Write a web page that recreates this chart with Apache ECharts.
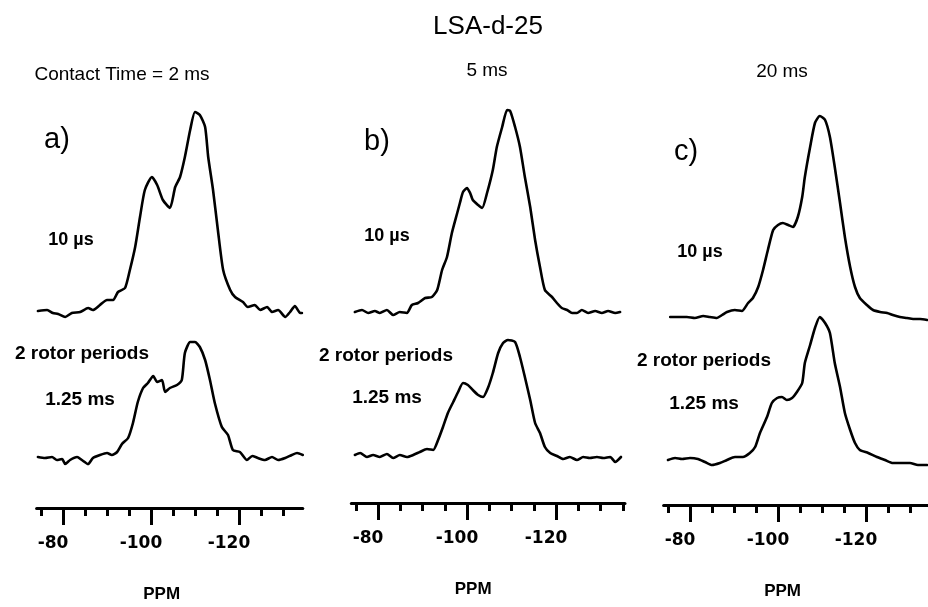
<!DOCTYPE html>
<html>
<head>
<meta charset="utf-8">
<script src="https://cdn.jsdelivr.net/npm/echarts@6/dist/echarts.min.js"></script>
<style>
  html, body { margin: 0; padding: 0; background: #fff; }
  #chart { width: 928px; height: 607px; }
</style>
</head>
<body>
<div id="chart"></div>
<script>
// ---- text ----
const chartTitle = 'LSA-d-25';
const contactTimes = ['Contact Time = 2 ms', '5 ms', '20 ms'];
const panelTags = ['a)', 'b)', 'c)'];
const upperLabel = '10 µs';
const lowerLabelLine1 = '2 rotor periods';
const lowerLabelLine2 = '1.25 ms';
const axisName = 'PPM';

// ---- PPM axis ticks ----
const minorTickPpm = [-75, -80, -85, -90, -95, -100, -105, -110, -115, -120, -125, -130, -135];
const majorTickPpm = [-80, -100, -120];

// ---- 29Si CP-MAS spectra: [chemical shift (ppm), intensity (a.u.)] ----
// contact time 2 ms
const spec2ms10us = [
  [-74.3, 2.5], [-76.4, 3], [-77.7, 1.5], [-78.9, 1], [-80.5, -0.5], [-82.0, 1.5], [-83.9, 2],
  [-85.7, 4], [-86.8, 3], [-88.4, 5.5], [-90.0, 8], [-91.4, 8], [-92.5, 12], [-94.1, 14],
  [-95.2, 23], [-96.4, 34.5], [-97.5, 49.5], [-98.6, 63], [-100.2, 69.5], [-101.4, 65.5],
  [-102.7, 58], [-104.3, 54], [-105.5, 64.5], [-106.6, 69.5], [-107.7, 79.5], [-108.9, 93],
  [-110.0, 102], [-111.1, 100.5], [-112.3, 94.5], [-113.0, 79.5], [-114.1, 63], [-115.2, 43],
  [-116.4, 23], [-118.0, 13], [-119.1, 9.5], [-120.9, 7], [-122.0, 4.5], [-123.6, 5.5],
  [-124.8, 3], [-126.4, 4.5], [-127.5, 2], [-128.9, 3], [-130.5, -0.5], [-131.6, 2],
  [-132.7, 5], [-133.9, 1.5], [-134.3, 1.5]
];
const spec2ms125ms = [
  [-74.3, 1.5], [-75.9, 1], [-77.5, 1.5], [-78.6, 0], [-79.8, 0.5], [-80.5, -2], [-81.6, 0],
  [-83.2, 1.5], [-84.3, 0], [-85.7, -2], [-86.8, 1], [-88.4, 2.5], [-90.0, 3.5], [-91.1, 2.5],
  [-92.3, 4], [-93.4, 8], [-94.8, 11], [-95.9, 18.5], [-97.0, 29], [-98.2, 36], [-99.3, 38.5],
  [-100.5, 42], [-101.4, 39], [-102.5, 40], [-103.2, 34], [-104.3, 36], [-105.9, 37.5],
  [-107.0, 40], [-107.7, 53.5], [-108.9, 59], [-110.0, 59], [-111.1, 56.5], [-112.3, 50],
  [-113.4, 40], [-114.5, 28.5], [-116.1, 16.5], [-117.5, 12.5], [-118.6, 5], [-120.2, 4],
  [-121.8, 0], [-123.0, 2], [-124.3, 1], [-125.9, 0], [-127.5, 1.5], [-128.9, 0], [-130.5, 1],
  [-132.0, 2.5], [-133.2, 3.5], [-134.5, 2.5]
];
// contact time 5 ms
const spec5ms10us = [
  [-74.8, 2], [-76.4, 3], [-77.8, 1.5], [-79.3, 2.5], [-80.4, 1.5], [-82.0, 3], [-83.4, 0.5],
  [-84.9, 2], [-86.5, 1.5], [-87.6, 5.5], [-89.0, 6.5], [-90.6, 9], [-92.1, 9.5], [-93.3, 13],
  [-94.4, 23], [-95.5, 29.5], [-96.6, 41.5], [-97.8, 51.5], [-98.4, 56.5], [-99.1, 62],
  [-100.0, 64], [-100.7, 61.5], [-101.3, 58], [-102.5, 55.5], [-103.4, 54], [-104.5, 61.5],
  [-105.8, 73], [-106.7, 84.5], [-107.9, 94.5], [-109.0, 103], [-109.7, 102.5], [-110.8, 94.5],
  [-111.9, 84.5], [-113.0, 69.5], [-114.2, 54.5], [-115.3, 38], [-116.4, 24.5], [-117.5, 13],
  [-119.1, 9.5], [-120.2, 6.5], [-121.3, 4], [-122.5, 3], [-123.6, 1.5], [-124.7, 1.5],
  [-125.8, 3], [-127.2, 1.5], [-128.8, 2.5], [-130.3, 1.5], [-131.7, 2.5], [-133.3, 1.5],
  [-134.4, 2]
];
const spec5ms125ms = [
  [-74.8, 2.5], [-76.0, 3.5], [-77.5, 1.5], [-78.9, 2.5], [-80.4, 1.5], [-82.0, 3], [-83.4, 1],
  [-84.9, 2.5], [-86.5, 1.5], [-87.9, 2.5], [-89.4, 4], [-91.0, 5.5], [-92.4, 5], [-93.5, 10],
  [-94.6, 16.5], [-95.7, 23.5], [-96.9, 29], [-98.0, 34], [-99.1, 38.5], [-100.2, 37.5],
  [-101.3, 35], [-102.5, 32.5], [-103.6, 31.5], [-104.7, 36], [-105.8, 43.5], [-107.0, 53.5],
  [-108.1, 58.5], [-109.2, 60], [-110.8, 59], [-111.9, 51.5], [-113.0, 41.5], [-114.2, 30],
  [-115.3, 18.5], [-116.4, 13.5], [-117.5, 6.5], [-118.7, 3.5], [-120.2, 2], [-121.6, 0.5],
  [-123.1, 1.5], [-124.7, 0], [-126.1, 1.5], [-127.6, 1], [-129.2, 1.5], [-130.6, 1],
  [-132.2, 1.5], [-133.3, -1], [-134.6, 1.5]
];
// contact time 20 ms
const spec20ms10us = [
  [-75.5, 1], [-77.3, 1], [-79.3, 1], [-81.1, 0.5], [-83.0, 1.5], [-84.5, 1], [-86.1, 0.5],
  [-87.3, 2], [-88.4, 3.5], [-90.2, 4.5], [-91.8, 4], [-93.2, 8], [-94.3, 10.5], [-95.5, 16],
  [-96.6, 24.5], [-97.7, 34.5], [-98.9, 44.5], [-100.0, 47], [-101.1, 48], [-102.3, 47],
  [-103.4, 46], [-104.5, 51], [-105.5, 61], [-106.1, 71], [-107.3, 86], [-108.4, 98],
  [-109.5, 101.5], [-110.7, 99.5], [-111.8, 91], [-112.9, 76], [-114.1, 58], [-115.2, 41],
  [-116.4, 26], [-117.5, 16], [-118.6, 10.5], [-120.2, 7], [-121.6, 4.5], [-123.2, 3.5],
  [-124.8, 3], [-126.1, 2], [-127.7, 1], [-129.3, 0.5], [-130.7, 0], [-132.3, 0], [-133.9, -0.5]
];
const spec20ms125ms = [
  [-75.0, 1.5], [-76.6, 2.5], [-78.2, 2], [-80.0, 2.5], [-81.8, 2], [-83.4, 0.5], [-85.0, -1],
  [-86.8, 0], [-88.4, 1.5], [-90.2, 3], [-92.0, 3], [-93.6, 5], [-94.8, 8], [-95.9, 15],
  [-97.5, 23], [-98.6, 30], [-99.8, 32.5], [-100.9, 33], [-102.0, 31.5], [-103.2, 32.5],
  [-104.3, 35.5], [-105.5, 40], [-106.1, 50], [-107.3, 59], [-108.4, 67.5], [-109.5, 73],
  [-110.7, 70], [-111.8, 65], [-112.9, 50], [-114.1, 38], [-115.2, 25], [-116.4, 16.5],
  [-117.5, 10], [-118.6, 6.5], [-120.5, 5], [-122.5, 3], [-124.3, 1.5], [-126.1, 0],
  [-128.2, 0], [-130.0, 0], [-131.8, -1], [-133.9, -1]
];

const upperSpectra = [spec2ms10us, spec5ms10us, spec20ms10us];
const lowerSpectra = [spec2ms125ms, spec5ms125ms, spec20ms125ms];

// ---- page layout (pixels) ----
const layout = [
  { left: 36.6, width: 266.2, ppmLow: -134.5, upperBase: 316, lowerBase: 460, axisY: 508, nameShift: 16,
    head: [122, 75], tag: [57, 140], up: [71, 240], low1: [82, 354], low2: [80, 400],
    ticks: minorTickPpm.filter(v => v >= -130) },
  { left: 351.3, width: 273.7, ppmLow: -135.5, upperBase: 316, lowerBase: 460, axisY: 503, nameShift: 30,
    head: [487, 71], tag: [377, 142], up: [387, 236], low1: [386, 356], low2: [387, 398],
    ticks: minorTickPpm },
  { left: 663.6, width: 264, ppmLow: -134, upperBase: 319, lowerBase: 463, axisY: 505, nameShift: 26,
    head: [782, 72], tag: [686, 152], up: [700, 252], low1: [704, 361], low2: [704, 404],
    ticks: minorTickPpm.filter(v => v >= -130) }
];
const ppmHigh = -74;
const yMin = -10, yMax = 110, pxPerUnit = 2;
const specHeight = (yMax - yMin) * pxPerUnit;

const grids = [], xAxes = [], yAxes = [], series = [], texts = [];

function addSpectrumGrid(p, base, data) {
  const gi = grids.length;
  grids.push({ left: p.left, width: p.width, top: base - yMax * pxPerUnit, height: specHeight });
  const xi = xAxes.length;
  xAxes.push({ gridIndex: gi, type: 'value', inverse: true, min: p.ppmLow, max: ppmHigh, show: false });
  const yi = yAxes.length;
  yAxes.push({ gridIndex: gi, type: 'value', min: yMin, max: yMax, show: false });
  series.push({ type: 'line', xAxisIndex: xi, yAxisIndex: yi, data, showSymbol: false, symbol: 'none',
    smooth: 0.2, lineStyle: { color: '#000', width: 2.6, join: 'round', cap: 'round' }, silent: true });
}
function label(text, pos, font) {
  return { type: 'text', x: pos[0], y: pos[1],
    style: { text, font, fill: '#000', align: 'center', verticalAlign: 'middle' } };
}

layout.forEach((p, i) => {
  addSpectrumGrid(p, p.upperBase, upperSpectra[i]);
  addSpectrumGrid(p, p.lowerBase, lowerSpectra[i]);

  // PPM scale: long ticks at every 20 ppm, short ticks every 5 ppm
  const gi = grids.length;
  grids.push({ left: p.left, width: p.width, top: p.axisY - 20, height: 20 });
  yAxes.push({ gridIndex: gi, type: 'value', min: 0, max: 1, show: false });
  xAxes.push({
    gridIndex: gi, type: 'value', inverse: true, min: p.ppmLow, max: ppmHigh, position: 'bottom', offset: 0,
    axisLine: { show: true, onZero: false, lineStyle: { color: '#000', width: 3 } },
    axisTick: { show: true, inside: false, length: 8, customValues: p.ticks, lineStyle: { color: '#000', width: 3 } },
    axisLabel: { show: false }, splitLine: { show: false }
  });
  xAxes.push({
    gridIndex: gi, type: 'value', inverse: true, min: p.ppmLow, max: ppmHigh, position: 'bottom', offset: 0,
    axisLine: { show: false, onZero: false },
    axisTick: { show: true, inside: false, length: 17, customValues: majorTickPpm, lineStyle: { color: '#000', width: 3 } },
    axisLabel: { show: true, customValues: majorTickPpm, margin: 27, color: '#000',
      fontFamily: 'DejaVu Sans', fontWeight: 'bold', fontSize: 17, padding: [0, 20, 0, 0] },
    splitLine: { show: false },
    name: axisName, nameLocation: 'middle', nameGap: 78,
    nameTextStyle: { color: '#000', fontFamily: 'Liberation Sans', fontWeight: 'bold', fontSize: 17,
      padding: [0, p.nameShift, 0, 0] }
  });

  texts.push(label(contactTimes[i], p.head, '19px "Liberation Sans"'));
  texts.push(label(panelTags[i], p.tag, '29px "Liberation Sans"'));
  texts.push(label(upperLabel, p.up, 'bold 18px "Liberation Sans"'));
  texts.push(label(lowerLabelLine1, p.low1, 'bold 19px "Liberation Sans"'));
  texts.push(label(lowerLabelLine2, p.low2, 'bold 19px "Liberation Sans"'));
});

texts.push(label(chartTitle, [488, 27], '26px "Liberation Sans"'));

const chart = echarts.init(document.getElementById('chart'), null, { renderer: 'canvas' });
chart.setOption({
  animation: false,
  backgroundColor: '#fff',
  grid: grids,
  xAxis: xAxes,
  yAxis: yAxes,
  series,
  graphic: { elements: texts }
});
</script>
</body>
</html>
